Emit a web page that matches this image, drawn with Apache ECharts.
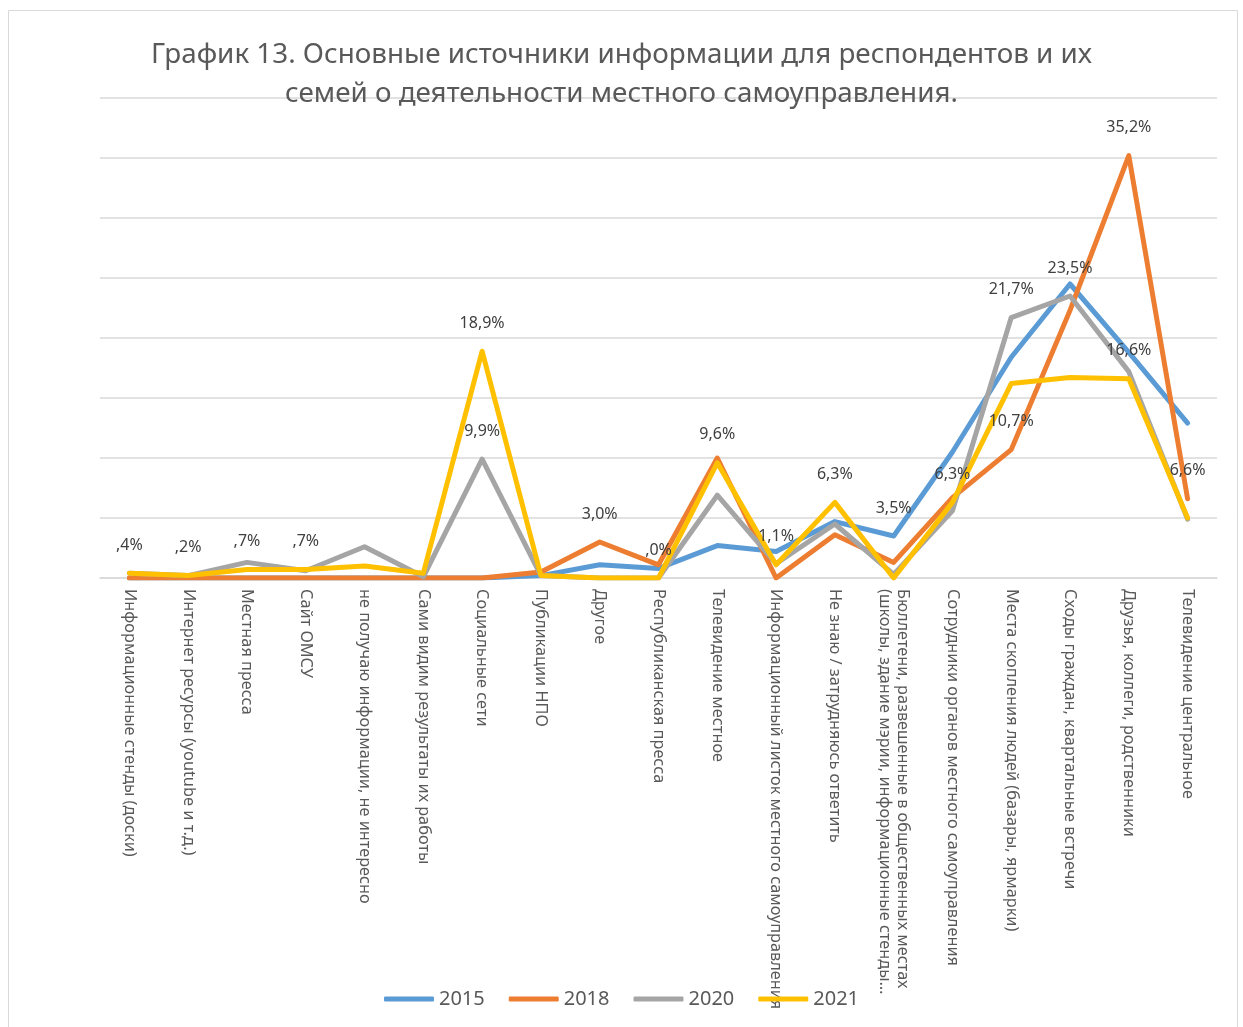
<!DOCTYPE html>
<html>
<head>
<meta charset="utf-8">
<script src="https://cdn.jsdelivr.net/npm/echarts@6/dist/echarts.min.js"></script>
<style>
  html, body { margin: 0; padding: 0; background: #fff; }
  #chart { width: 1243px; height: 1027px; }
</style>
</head>
<body>
<div id="chart"></div>
<script>
var categories = [
  'Информационные стенды (доски)',
  'Интернет ресурсы (youtube и т.д.)',
  'Местная пресса',
  'Сайт ОМСУ',
  'не получаю информации, не интересно',
  'Сами видим результаты их работы',
  'Социальные сети',
  'Публикации НПО',
  'Другое',
  'Республиканская пресса',
  'Телевидение местное',
  'Информационный листок местного самоуправления',
  'Не знаю / затрудняюсь ответить',
  'Бюллетени, развешенные в общественных местах\n(школы, здание мэрии, информационные стенды…',
  'Сотрудники органов местного самоуправления',
  'Места скопления людей (базары, ярмарки)',
  'Сходы граждан, квартальные встречи',
  'Друзья, коллеги, родственники',
  'Телевидение центральное'
];

var years = ['2015', '2018', '2020', '2021'];

var v2015 = [0, 0, 0, 0, 0, 0, 0, 0.2, 1.1, 0.8, 2.7, 2.2, 4.7, 3.5, 10.5, 18.4, 24.5, 18.8, 12.9];
var v2018 = [0, 0, 0, 0, 0, 0, 0, 0.5, 3.0, 1.1, 10.0, 0, 3.6, 1.3, 6.7, 10.7, 22.3, 35.2, 6.6];
var v2020 = [0.4, 0.2, 1.3, 0.6, 2.6, 0.1, 9.9, 0.2, 0, 0, 6.9, 1.2, 4.5, 0.3, 5.6, 21.7, 23.5, 17.2, 4.9];
var v2021 = [0.4, 0.2, 0.7, 0.7, 1.0, 0.4, 18.9, 0.2, 0, 0, 9.6, 1.1, 6.3, 0, 6.3, 16.2, 16.7, 16.6, 5.0];

// which points carry a data label (category indexes)
var lab2015 = [13];
var lab2018 = [8, 15, 17, 18];
var lab2020 = [6, 15, 16];
var lab2021 = [0, 1, 2, 3, 6, 9, 10, 11, 12, 14, 17];

var colors = ['#5B9BD5', '#ED7D31', '#A5A5A5', '#FFC000'];
var FONT = 'Noto Sans';

function fmt(p) {
  var s = p.value.toFixed(1).replace('.', ',');
  if (s.indexOf('0,') === 0) s = s.slice(1);
  return s + '%';
}

function build(vals, labs) {
  return vals.map(function (v, i) {
    if (labs.indexOf(i) >= 0) {
      return { value: v, label: { show: true } };
    }
    return v;
  });
}

function mkSeries(name, vals, labs, color) {
  return {
    name: name,
    type: 'line',
    data: build(vals, labs),
    symbol: 'circle',
    symbolSize: 0,
    showSymbol: true,
    lineStyle: { width: 5, color: color, cap: 'round', join: 'round' },
    itemStyle: { color: color },
    label: {
      show: false,
      position: 'top',
      distance: 20,
      formatter: fmt,
      fontFamily: FONT,
      fontSize: 16,
      color: '#404040'
    },
    emphasis: { disabled: true },
    animation: false
  };
}

var chart = echarts.init(document.getElementById('chart'));
chart.setOption({
  backgroundColor: '#fff',
  graphic: [{
    type: 'rect',
    shape: { x: 8.5, y: 10.5, width: 1229, height: 1030 },
    style: { fill: 'none', stroke: '#d9d9d9', lineWidth: 1 },
    silent: true
  }],
  title: {
    text: 'График 13. Основные источники информации для респондентов и их\nсемей о деятельности местного самоуправления.',
    left: 'center',
    top: 31,
    textStyle: {
      fontFamily: FONT,
      fontSize: 27.8,
      fontWeight: 'normal',
      color: '#595959',
      lineHeight: 39
    },
    z: 10
  },
  legend: {
    data: years,
    bottom: 13,
    left: 'center',
    icon: 'roundRect',
    itemWidth: 50,
    itemHeight: 5,
    itemGap: 24,
    textStyle: { fontFamily: FONT, fontSize: 20, color: '#595959' }
  },
  grid: { left: 100, right: 26, top: 98, bottom: 449 },
  xAxis: {
    type: 'category',
    data: categories,
    boundaryGap: true,
    axisTick: { show: false },
    axisLine: { lineStyle: { color: '#d9d9d9', width: 1.5 } },
    axisLabel: {
      interval: 0,
      rotate: -90,
      margin: 11,
      fontFamily: FONT,
      fontSize: 16.3,
      lineHeight: 18,
      color: '#595959'
    }
  },
  yAxis: {
    type: 'value',
    min: 0,
    max: 40,
    interval: 5,
    axisLabel: { show: false },
    axisLine: { show: false },
    axisTick: { show: false },
    splitLine: { lineStyle: { color: '#d9d9d9', width: 1.5 } }
  },
  series: [
    mkSeries(years[0], v2015, lab2015, colors[0]),
    mkSeries(years[1], v2018, lab2018, colors[1]),
    mkSeries(years[2], v2020, lab2020, colors[2]),
    mkSeries(years[3], v2021, lab2021, colors[3])
  ]
});
</script>
</body>
</html>
